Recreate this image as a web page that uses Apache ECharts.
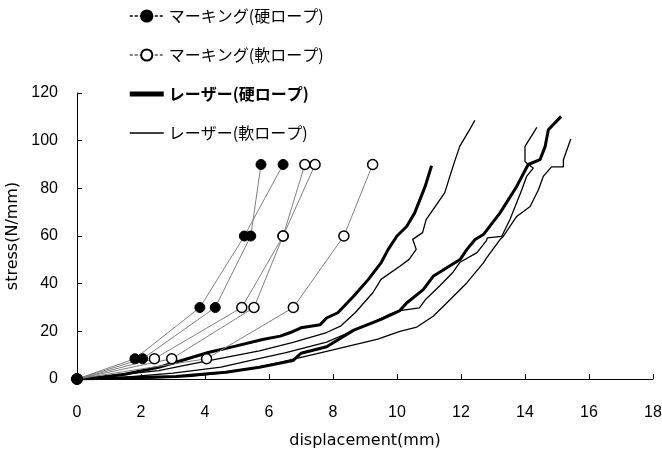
<!DOCTYPE html>
<html>
<head>
<meta charset="utf-8">
<script src="https://cdn.jsdelivr.net/npm/echarts@6/dist/echarts.min.js"></script>
<style>
	html, body { margin: 0; padding: 0; background: #fff; }
	#chart { width: 662px; height: 452px; }
</style>
</head>
<body>
<div id="chart"></div>
<script>
// legend names
const nameMarkHard = "マーキング(硬ロープ)"
const nameMarkSoft = "マーキング(軟ロープ)"
const nameLaserHard = "レーザー(硬ロープ)"
const nameLaserSoft = "レーザー(軟ロープ)"

// marking measurements [displacement, stress]
const markHard1 = [[0, 0], [1.81, 8.5], [3.84, 30], [5.23, 60], [6.44, 90]]
const markHard2 = [[0, 0], [2.05, 8.5], [4.32, 30], [5.43, 60], [5.75, 90]]
const markSoft1 = [[0, 0], [2.42, 8.5], [5.15, 30], [6.44, 60], [7.12, 90]]
const markSoft2 = [[0, 0], [2.96, 8.5], [5.53, 30], [6.44, 60], [7.44, 90]]
const markSoft3 = [[0, 0], [4.05, 8.5], [6.76, 30], [8.34, 60], [9.24, 90]]

// laser measurements, hard rope
const laserHard1 = [
	[0, 0], [0.8, 0.8], [1.5, 2], [2.55, 4.9], [3.4, 8.3], [4.1, 11.1], [4.95, 13.8],
	[5.8, 16.6], [6.35, 18], [6.65, 19.4], [7.0, 21.5], [7.6, 22.8], [7.8, 25.6],
	[8.15, 27.8], [8.65, 34.8], [9.1, 41.7], [9.5, 48.7], [9.72, 54.3], [10.0, 60],
	[10.3, 64], [10.55, 69.6], [10.88, 80.8], [11.08, 89.5],
]
const laserHard2 = [
	[0, 0], [1.0, 0.3], [3.1, 1.1], [4.65, 2.8], [5.7, 4.9], [6.75, 7.7], [7.0, 10.8],
	[7.8, 13.5], [8.65, 20.5], [9.5, 25], [10.09, 28.7], [10.3, 31.9], [10.82, 37.5],
	[11.13, 43.1], [11.97, 50.1], [12.18, 54.3], [12.44, 58.5], [12.7, 60.6],
	[13.22, 69.7], [13.74, 80.8], [14.1, 90], [14.47, 92], [14.63, 97.6],
	[14.73, 104.6], [15.13, 110.2],
]

// laser measurements, soft rope
const laserSoft1 = [
	[0, 0], [1.0, 1.3], [2.55, 3.5], [3.6, 6.3], [4.65, 9.1], [5.7, 11.8], [6.75, 15.4],
	[7.8, 19.5], [8.25, 22.3], [8.7, 27.9], [9.25, 36.3], [9.5, 41.8], [10.1, 47.4],
	[10.38, 50.2], [10.6, 54.4], [10.49, 58.6], [10.8, 61.4], [10.91, 66.9],
	[11.49, 78.1], [11.75, 89.2], [11.96, 97.6], [12.27, 104.6], [12.43, 108.5],
]
const laserSoft2 = [
	[0, 0], [2.0, 0.3], [3.5, 1], [4.5, 2.5], [5.5, 4.5], [6.4, 7.2], [7.0, 9.1],
	[8.0, 12.2], [9.4, 16.7], [10.09, 20], [10.62, 21.8], [11.13, 26.3], [11.45, 30.5],
	[12.18, 40.3], [12.7, 48.7], [12.8, 50.8], [13.22, 58.5], [13.32, 59.8],
	[13.74, 68.2], [14.16, 72.4], [14.42, 79.4], [14.57, 85], [14.83, 89], [15.2, 89],
	[15.2, 92], [15.43, 100.7],
]
const laserSoft3 = [
	[0, 0], [1.5, 0.8], [3.0, 2.5], [4.5, 5], [5.5, 8], [6.5, 11], [7.8, 15.5],
	[8.5, 19.5], [9.2, 23.5], [9.8, 27.3], [10.09, 28.7], [10.7, 29.8], [10.9, 33.5],
	[11.33, 39], [11.75, 44.8], [11.97, 49], [12.5, 53], [12.8, 58.2], [12.82, 59.2],
	[13.27, 59.8], [13.53, 66.9], [13.9, 79.4], [14.05, 85], [14.26, 88.5], [14.1, 90],
	[14.0, 91.3], [14.0, 97.6], [14.37, 105.6],
]

const labelFont = "Liberation Sans"
const nameFont = "DejaVu Sans"
const cjkFont = "Noto Sans CJK JP"

function markSeries(name, data, filled) {
	return {
		name: name,
		type: "line",
		data: data,
		symbol: "circle",
		symbolSize: 10,
		showAllSymbol: true,
		z: 5,
		lineStyle: { color: "#808080", width: 1 },
		itemStyle: filled
			? { color: "#000", borderColor: "#000", borderWidth: 1 }
			: { color: "#fff", borderColor: "#000", borderWidth: 1.5 },
	}
}

function laserSeries(name, data, width) {
	return {
		name: name,
		type: "line",
		data: data,
		symbol: "none",
		z: 3,
		lineStyle: { color: "#000", width: width },
		itemStyle: { color: "#000" },
	}
}

const option = {
	animation: false,
	backgroundColor: "#fff",
	legend: {
		orient: "vertical",
		left: 124,
		top: 3,
		itemWidth: 34,
		itemHeight: 14,
		itemGap: 23,
		textStyle: { fontFamily: cjkFont, fontSize: 16, color: "#000" },
		data: [
			{
				name: nameMarkHard,
				lineStyle: { color: "#000", width: 1.5, type: [3, 2] },
			},
			{
				name: nameMarkSoft,
				lineStyle: { color: "#000", width: 1, type: [3, 2] },
			},
			{
				name: nameLaserHard,
				icon: "path://M0,0 H34 V5 H0 Z",
				itemStyle: { color: "#000" },
				textStyle: { fontWeight: "bold" },
			},
			{
				name: nameLaserSoft,
				icon: "path://M0,0 H34 V1.4 H0 Z",
				itemStyle: { color: "#000" },
			},
		],
	},
	grid: {
		left: 77,
		right: 9,
		top: 93,
		bottom: 73,
		outerBoundsMode: "none",
	},
	xAxis: {
		type: "value",
		min: 0,
		max: 18,
		interval: 2,
		name: "displacement(mm)",
		nameLocation: "middle",
		nameGap: 54,
		nameTextStyle: { fontFamily: nameFont, fontSize: 16, color: "#000" },
		splitLine: { show: false },
		axisLine: { onZero: false, lineStyle: { color: "#000", width: 1 } },
		axisTick: { inside: true, length: 5, lineStyle: { color: "#000" } },
		axisLabel: { margin: 26, fontFamily: labelFont, fontSize: 16, color: "#000" },
	},
	yAxis: {
		type: "value",
		min: 0,
		max: 120,
		interval: 20,
		name: "stress(N/mm)",
		nameLocation: "middle",
		nameGap: 54,
		nameRotate: 90,
		nameTextStyle: { fontFamily: nameFont, fontSize: 16, color: "#000" },
		splitLine: { show: false },
		axisLine: { show: true, lineStyle: { color: "#000", width: 1 } },
		axisTick: { show: true, inside: true, length: 5, lineStyle: { color: "#000" } },
		axisLabel: { margin: 19, fontFamily: labelFont, fontSize: 16, color: "#000" },
	},
	series: [
		laserSeries(nameLaserHard, laserHard1, 3),
		laserSeries(nameLaserHard, laserHard2, 3),
		laserSeries(nameLaserSoft, laserSoft1, 1.3),
		laserSeries(nameLaserSoft, laserSoft2, 1.3),
		laserSeries(nameLaserSoft, laserSoft3, 1.3),
		markSeries(nameMarkSoft, markSoft1, false),
		markSeries(nameMarkSoft, markSoft2, false),
		markSeries(nameMarkSoft, markSoft3, false),
		markSeries(nameMarkHard, markHard1, true),
		markSeries(nameMarkHard, markHard2, true),
	],
}

const chart = echarts.init(document.getElementById("chart"), null, { renderer: "canvas" })
chart.setOption(option)
</script>
</body>
</html>
